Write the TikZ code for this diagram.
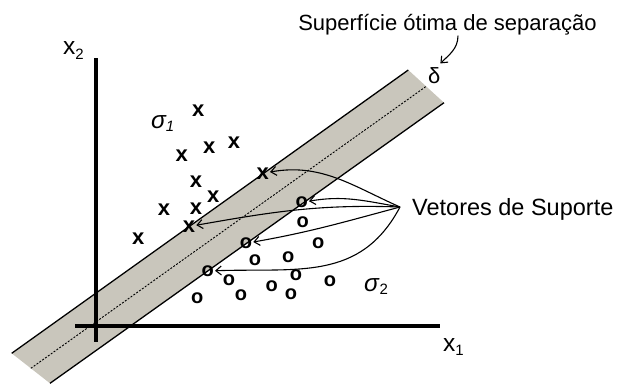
\documentclass[tikz,border=0pt]{standalone}
\usepackage{fontspec}
\setmainfont{Liberation Sans}
\usepackage{tikz}
\usetikzlibrary{arrows.meta,calc}

\definecolor{bandgray}{RGB}{201,198,188}
\newcommand{\lowidx}[2][4.5pt]{\raisebox{-#1}{\fontsize{15}{15}\selectfont #2}}

\begin{document}
\begin{tikzpicture}[x=1pt,y=-1pt,
    lbl/.style={font=\fontsize{22}{26}\selectfont, inner sep=0},
    axlbl/.style={lbl, font=\fontsize{24.5}{28}\selectfont},
    xmark/.style={font=\fontsize{22}{24}\selectfont\bfseries, inner sep=0pt},
    omark/.style={font=\fontsize{20}{22}\selectfont\bfseries, inner sep=0pt},
    svarrow/.style={line width=1.1pt, shorten >=1pt, -{Straight Barb[length=5.5pt,width=9pt]}},
    axis/.style={line width=3.5pt}]
  \useasboundingbox (0,0) rectangle (619,384);
  \coordinate (a) at (11.7,353.3);
  \coordinate (b) at (408.3,70);
  \coordinate (c) at (444,102.7);
  \coordinate (d) at (50,383.3);
  \fill[bandgray] (a) -- (b) -- (c) -- (d) -- cycle;
  \draw[line width=1.3pt] (a) -- (b);
  \draw[line width=1.3pt] (d) -- (c);
  \draw[line width=0.9pt, dash pattern=on 2pt off 1.5pt] ($(a)!0.5!(d)$) -- ($(b)!0.5!(c)$);
  \draw[axis] (96,58) -- (96,342);
  \draw[axis] (75,326) -- (440,326);
  \node[axlbl, anchor=base west] (xlab2) at (63,54) {x\lowidx[5pt]{2}};
  \node[axlbl, anchor=base west] (xlab1) at (443,351) {x\lowidx{1}};
  \node[axlbl, anchor=base west] (sig1) at (151,128.3) {\textit{σ\lowidx[3pt]{1}}};
  \node[axlbl, anchor=base west] (sig2) at (364,291.7) {\textit{σ}\lowidx[3pt]{2}};
  \node[lbl, anchor=base west] (dl) at (428,83.3) {δ};
  \node[lbl, anchor=base] (sup) at (447.5,30.7) {Superfície ótima de separação};
  \node[lbl, anchor=west, inner xsep=12pt, text height=17pt, text depth=0pt,
    font=\fontsize{23.5}{28}\selectfont] (vs) at (400,207) {Vetores de Suporte};
  \foreach \nm/\px/\py in {cx1/198.3/111, cx2/209.3/147.3, cx3/234/142.3,
      cx4/181.7/156, cx5/196/181.5, cx6/213.3/196.7, cx7/164/209.3,
      cx8/196/208.5, cx9/138.3/239, sx1/262.7/173.3, sx2/189/226.5}
    \node[xmark] (\nm) at (\px,\py) {x};
  \foreach \nm/\px/\py in {so1/301.7/202.5, co1/302.7/222, so2/246/243.3,
      co2/318.3/243.3, co3/255/260, co4/288.3/257.3, so3/207.7/271,
      co5/229/280, co6/296/275, co7/271.7/286.7, co8/330/281.7,
      co9/241/295, co10/291/294.3, co11/197.3/298.3}
    \node[omark] (\nm) at (\px,\py) {o};
  \draw[svarrow] (vs.west) to[out=156,in=10] (sx1);
  \draw[svarrow] (vs.west) to[out=170,in=10] (so1);
  \draw[svarrow] (vs.west) to[out=178,in=10] (sx2);
  \draw[svarrow] (vs.west) to[out=195,in=10] (so2);
  \draw[svarrow] (vs.west) to[out=242,in=2,looseness=1.1] (so3);
  \draw[svarrow] ([xshift=10.5pt]sup.south) to[out=-90,in=45] ([shift={(-1,-3)}]dl.north east);
\end{tikzpicture}
\end{document}
